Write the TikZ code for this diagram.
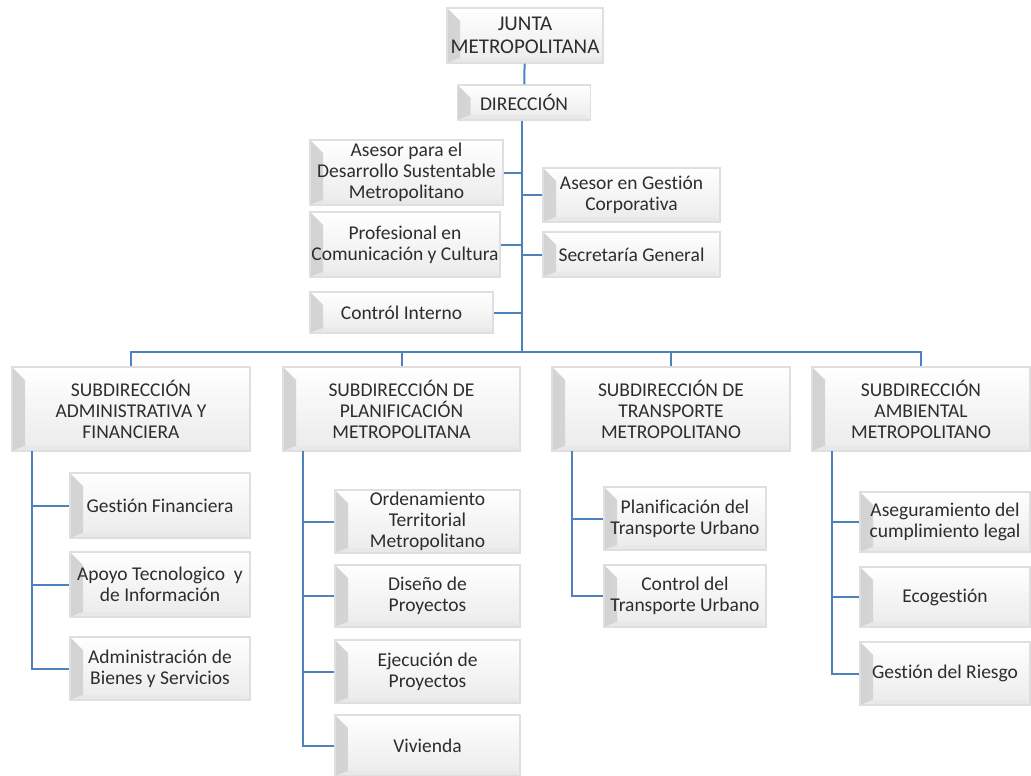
\documentclass[tikz,border=0pt]{standalone}
\usepackage{fontspec}
\setmainfont{Carlito}[Ligatures=NoCommon]
\definecolor{txt}{RGB}{45,45,45}
\definecolor{linec}{RGB}{79,129,189}
\tikzset{
  orgbox/.style={rectangle, draw=gray!25, line width=1.2pt, top color=white, bottom color=gray!16,
    text=txt, align=center, font=\fontsize{19.5}{21}\selectfont, inner sep=0pt,
    path picture={
      \shade[left color=gray!35, right color=gray!8]
        (path picture bounding box.north west) -- ++(13,13)
        -- ([xshift=13pt,yshift=5pt]path picture bounding box.south west)
        -- (path picture bounding box.south west) -- cycle;
      \fill[gray!18]
        (path picture bounding box.south west) -- ([xshift=13pt,yshift=5pt]path picture bounding box.south west)
        -- ([xshift=-5pt,yshift=5pt]path picture bounding box.south east)
        -- (path picture bounding box.south east) -- cycle;
    }},
  conn/.style={draw=linec, line width=2pt}
}
\begin{document}
\begin{tikzpicture}[x=1pt,y=-1pt]
\useasboundingbox (0,0) rectangle (1031,776);
% top
\node[orgbox, minimum width=156, minimum height=55, font=\fontsize{21}{23}\selectfont] (junta) at (525,35.5) {JUNTA\\METROPOLITANA};
\node[orgbox, minimum width=133, minimum height=35] (dir) at (524,102.5) {DIRECCIÓN};
% advisors
\node[orgbox, minimum width=193, minimum height=65] (ads) at (406.5,172.5) {Asesor para el\\Desarrollo Sustentable\\Metropolitano};
\node[orgbox, minimum width=177, minimum height=54] (agc) at (631.5,195) {Asesor en Gestión\\Corporativa};
\node[orgbox, minimum width=190, minimum height=65] (prof) at (405,244.5) {Profesional en\\Comunicación y Cultura};
\node[orgbox, minimum width=177, minimum height=45] (secr) at (631.5,254.5) {Secretaría General};
\node[orgbox, minimum width=183, minimum height=41] (ctrl) at (401.5,312.5) {Contról Interno};
% subdirections
\node[orgbox, minimum width=238, minimum height=84] (subA) at (131,409) {SUBDIRECCIÓN\\ADMINISTRATIVA Y\\FINANCIERA};
\node[orgbox, minimum width=237, minimum height=84] (subP) at (401.5,409) {SUBDIRECCIÓN DE\\PLANIFICACIÓN\\METROPOLITANA};
\node[orgbox, minimum width=238, minimum height=84] (subT) at (671,409) {SUBDIRECCIÓN DE\\TRANSPORTE\\METROPOLITANO};
\node[orgbox, minimum width=218, minimum height=84] (subM) at (921,409) {SUBDIRECCIÓN\\AMBIENTAL\\METROPOLITANO};
% column A
\node[orgbox, minimum width=180, minimum height=65] (gf) at (160,505.5) {Gestión Financiera};
\node[orgbox, minimum width=180, minimum height=65] (apoyo) at (160,584.5) {Apoyo Tecnologico\ \ y\\de Información};
\node[orgbox, minimum width=180, minimum height=63] (abs) at (160,668.5) {Administración de\\Bienes y Servicios};
% column P
\node[orgbox, minimum width=185, minimum height=63] (orden) at (427.5,521.5) {Ordenamiento\\Territorial\\Metropolitano};
\node[orgbox, minimum width=185, minimum height=62] (dise) at (427.5,596) {Diseño de\\Proyectos};
\node[orgbox, minimum width=185, minimum height=63] (ejec) at (427.5,671.5) {Ejecución de\\Proyectos};
\node[orgbox, minimum width=185, minimum height=61] (viv) at (427.5,745.5) {Vivienda};
% column T
\node[orgbox, minimum width=162, minimum height=63] (ptu) at (685,518.5) {Planificación del\\Transporte Urbano};
\node[orgbox, minimum width=162, minimum height=62] (ctu) at (685,596) {Control del\\Transporte Urbano};
% column M
\node[orgbox, minimum width=170, minimum height=60] (aseg) at (945,522) {Aseguramiento del\\cumplimiento legal};
\node[orgbox, minimum width=170, minimum height=60] (eco) at (945,597) {Ecogestión};
\node[orgbox, minimum width=170, minimum height=63] (rie) at (945,673.5) {Gestión del Riesgo};
% connectors
\coordinate (bus) at (522,352);
\coordinate (vA) at (32,451);
\coordinate (vP) at (303,451);
\coordinate (vT) at (572,451);
\coordinate (vM) at (832,451);
\draw[conn] (junta) -- (dir);
\draw[conn] (dir.south -| bus) -- (bus);
\foreach \n in {ads,agc,prof,secr,ctrl}{\draw[conn] (\n) -- (\n -| bus);}
\draw[conn] (subA.north) -- (subA.north |- bus) -- (subM.north |- bus) -- (subM.north);
\draw[conn] (subP.north) -- (subP.north |- bus);
\draw[conn] (subT.north) -- (subT.north |- bus);
\foreach \n in {gf,apoyo,abs}{\draw[conn] (vA) |- (\n.west);}
\foreach \n in {orden,dise,ejec,viv}{\draw[conn] (vP) |- (\n.west);}
\foreach \n in {ptu,ctu}{\draw[conn] (vT) |- (\n.west);}
\foreach \n in {aseg,eco,rie}{\draw[conn] (vM) |- (\n.west);}
\end{tikzpicture}
\end{document}
